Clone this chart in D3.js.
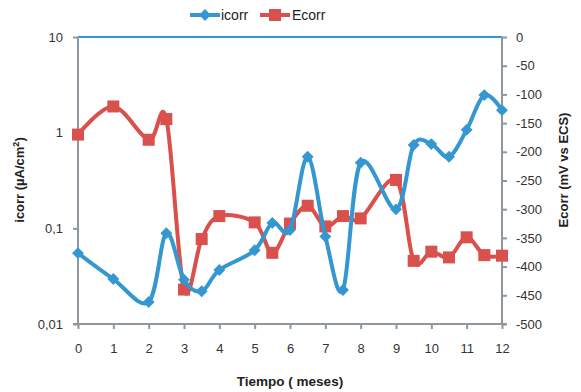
<!DOCTYPE html>
<html><head><meta charset="utf-8">
<script src="https://cdn.jsdelivr.net/npm/d3@7"></script>
<style>
body{margin:0;background:#fff;}
text{font-family:"Liberation Sans",Arial,sans-serif;}
</style></head>
<body>
<svg id="c" width="581" height="392"></svg>
<script>
const months = [0,1,2,2.5,3,3.5,4,5,5.5,6,6.5,7,7.5,8,9,9.5,10,10.5,11,11.5,12];
const icorr = [0.055,0.0295,0.017,0.089,0.029,0.022,0.0367,0.059,0.114,0.096,0.56,0.082,0.0227,0.486,0.158,0.743,0.76,0.56,1.07,2.47,1.72];
const ecorr = [-170,-121,-179,-143,-440,-352,-312,-323,-376,-325,-294,-330,-312,-316,-249,-390,-374,-384,-349,-380,-381];
const xTicks = [0,1,2,3,4,5,6,7,8,9,10,11,12];
const leftTicks = [10,1,0.1,0.01];
const leftTickLabels = ["10","1","0,1","0,01"];
const rightTicks = [0,-50,-100,-150,-200,-250,-300,-350,-400,-450,-500];
const seriesNames = ["icorr","Ecorr"];

const blue="#3497d2", red="#d9504c", grey="#8e979d";
const L=78,R=502,T=37,B=324;
const svg=d3.select("#c");
const x=d3.scaleLinear().domain([0,12]).range([L,R]);
const yL=d3.scaleLog().domain([0.01,10]).range([B,T]);
const yR=d3.scaleLinear().domain([-500,0]).range([B,T]);

svg.append("line").attr("x1",L).attr("x2",R).attr("y1",T).attr("y2",T).attr("stroke",blue).attr("stroke-width",2);

function styleAxis(g){
  g.select(".domain").remove();
  g.selectAll(".tick line").attr("stroke",grey).attr("stroke-width",2);
  g.selectAll(".tick text").attr("fill","#333").style("font-size","13px");
}
const gx=svg.append("g").attr("transform",`translate(0,${B})`)
 .call(d3.axisBottom(x).tickValues(xTicks).tickSize(5).tickPadding(15).tickFormat(d3.format("d")));
styleAxis(gx);
const gl=svg.append("g").attr("transform",`translate(${L},0)`)
 .call(d3.axisLeft(yL).tickValues(leftTicks).tickSize(5).tickPadding(10).tickFormat((d,i)=>leftTickLabels[i]));
styleAxis(gl);
const gr=svg.append("g").attr("transform",`translate(${R},0)`)
 .call(d3.axisRight(yR).tickValues(rightTicks).tickSize(5).tickPadding(9));
styleAxis(gr);
gr.selectAll(".tick text").text(d=>d===0?"0":"-"+Math.abs(d));

svg.append("line").attr("x1",L-5).attr("x2",R+5).attr("y1",B).attr("y2",B).attr("stroke",grey).attr("stroke-width",2);
svg.append("line").attr("x1",L).attr("x2",L).attr("y1",T).attr("y2",B).attr("stroke",grey).attr("stroke-width",2);
svg.append("line").attr("x1",R).attr("x2",R).attr("y1",T).attr("y2",B).attr("stroke",grey).attr("stroke-width",2);

const curve=d3.curveCardinal.tension(0);
const dI=months.map((m,i)=>[x(m),yL(icorr[i])]);
const dE=months.map((m,i)=>[x(m),yR(ecorr[i])]);
svg.append("path").attr("d",d3.line().curve(curve)(dE)).attr("fill","none").attr("stroke",red).attr("stroke-width",4);
svg.selectAll(".sq").data(dE).enter().append("rect").attr("x",d=>d[0]-6).attr("y",d=>d[1]-6).attr("width",12).attr("height",12).attr("fill",red);
svg.append("path").attr("d",d3.line().curve(curve)(dI)).attr("fill","none").attr("stroke",blue).attr("stroke-width",4);
const dia=d3.symbol().type(d3.symbolDiamond2).size(90);
svg.selectAll(".dm").data(dI).enter().append("path").attr("d",dia).attr("transform",d=>`translate(${d[0]},${d[1]})`).attr("fill",blue);

const lg=svg.append("g");
lg.append("line").attr("x1",190).attr("x2",220).attr("y1",15).attr("y2",15).attr("stroke",blue).attr("stroke-width",4);
lg.append("path").attr("d",dia).attr("transform","translate(205,15)").attr("fill",blue);
lg.append("text").attr("x",221).attr("y",20).text(seriesNames[0]).style("font-size","14px").attr("fill","#222");
lg.append("line").attr("x1",260).attr("x2",290).attr("y1",15).attr("y2",15).attr("stroke",red).attr("stroke-width",4);
lg.append("rect").attr("x",269).attr("y",9).attr("width",12).attr("height",12).attr("fill",red);
lg.append("text").attr("x",292).attr("y",20).text(seriesNames[1]).style("font-size","14px").attr("fill","#222");

svg.append("text").attr("x",290).attr("y",386).attr("text-anchor","middle").style("font-size","13.5px").style("font-weight","bold").attr("fill","#222").text("Tiempo ( meses)");
svg.append("text").attr("transform","translate(24,180) rotate(-90)").attr("text-anchor","middle").style("font-size","13px").style("font-weight","bold").attr("fill","#222")
 .html('icorr (µA/cm<tspan dy="-5" style="font-size:9px">2</tspan><tspan dy="5">)</tspan>');
svg.append("text").attr("transform","translate(568,170) rotate(-90)").attr("text-anchor","middle").style("font-size","13px").style("font-weight","bold").attr("fill","#222").text("Ecorr (mV vs ECS)");
</script>
</body></html>
